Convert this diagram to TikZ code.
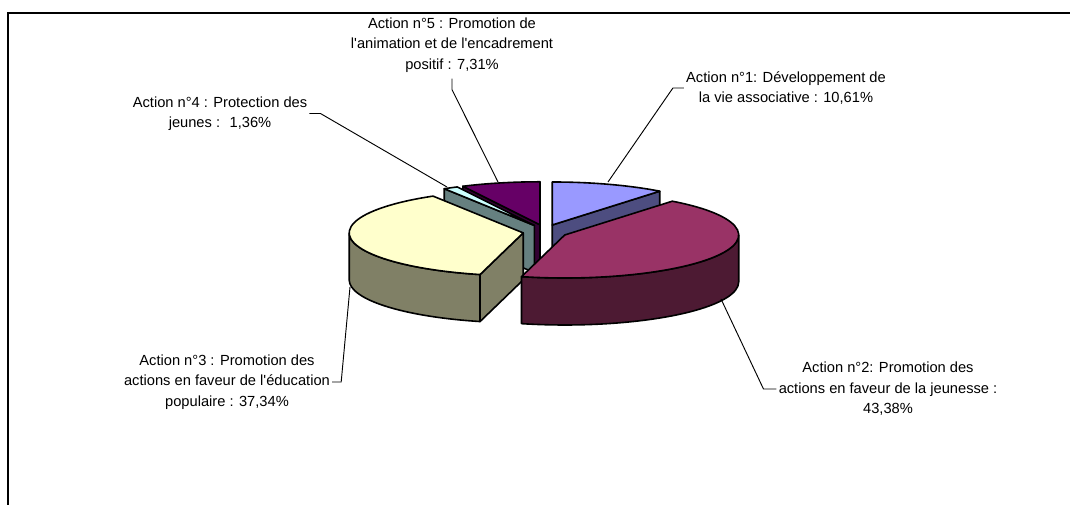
\documentclass[tikz,border=0pt]{standalone}
\usepackage{fontspec}
\newfontfamily\lab{Liberation Sans}
\definecolor{s1top}{HTML}{9999FF}\definecolor{s1side}{HTML}{4D4D80}
\definecolor{s2top}{HTML}{993366}\definecolor{s2side}{HTML}{4D1A33}
\definecolor{s3top}{HTML}{FFFFCC}\definecolor{s3side}{HTML}{808066}
\definecolor{s4top}{HTML}{CCFFFF}\definecolor{s4side}{HTML}{668080}
\definecolor{s5top}{HTML}{660066}\definecolor{s5side}{HTML}{330033}
\tikzset{
  edge/.style={draw=black, line width=1.2pt, line join=round},
  lbl/.style={font=\lab\fontsize{11}{15.4}\selectfont, align=center, inner sep=1.5pt},
  leader/.style={draw=black, line width=0.7pt},
  frame/.style={draw=black, line width=1pt},
  pie/.style={x radius=174, y radius=43}
}
\begin{document}
\begin{tikzpicture}[x=0.75pt,y=0.75pt]
\useasboundingbox (0,0) rectangle (1070,505);
\begin{scope}
  \clip (0,0) rectangle (1070,505);
  \draw[frame] (8,-20) -- (8,492) -- (1090,492);
\end{scope}

% slice 5
\begin{scope}[shift={(540.0,280.2)}]
  \filldraw[edge, fill=s5side] (0,0) -- (-243.684:174 and 43) -- ++(0,-47) -- (0,-47) -- cycle;
  \filldraw[edge, fill=s5top] (0,0) -- (-243.684:174 and 43) arc[pie, start angle=-243.684, end angle=-270] -- cycle;
\end{scope}
% slice 4
\begin{scope}[shift={(534.4,279.5)}]
  \filldraw[edge, fill=s4side] (0,0) -- (-238.788:174 and 43) -- ++(0,-47) -- (0,-47) -- cycle;
  \filldraw[edge, fill=s4top] (0,0) -- (-238.788:174 and 43) arc[pie, start angle=-238.788, end angle=-243.684] -- cycle;
\end{scope}
% slice 1
\begin{scope}[shift={(552.2,280.0)}]
  \filldraw[edge, fill=s1side] (0,0) -- (51.804:174 and 43) -- ++(0,-47) -- (0,-47) -- cycle;
  \filldraw[edge, fill=s1top] (0,0) -- (90:174 and 43) arc[pie, start angle=90, end angle=51.804] -- cycle;
\end{scope}
% slice 3
\begin{scope}[shift={(523.2,272.1)}]
  \filldraw[edge, fill=s3side] (0,0) -- (-104.364:174 and 43) -- ++(0,-47) -- (0,-47) -- cycle;
  \filldraw[edge, fill=s3side] (-104.364:174 and 43) arc[pie, start angle=-104.364, end angle=-180] -- ++(0,-47) arc[pie, start angle=-180, end angle=-104.364] -- cycle;
  \filldraw[edge, fill=s3top] (0,0) -- (-104.364:174 and 43) arc[pie, start angle=-104.364, end angle=-238.788] -- cycle;
\end{scope}
% slice 2
\begin{scope}[shift={(564.7,270.0)}]
  \filldraw[edge, fill=s2side] (0:174 and 43) arc[pie, start angle=0, end angle=-104.364] -- ++(0,-47) arc[pie, start angle=-104.364, end angle=0] -- cycle;
  \filldraw[edge, fill=s2top] (0,0) -- (51.804:174 and 43) arc[pie, start angle=51.804, end angle=-104.364] -- cycle;
\end{scope}

% labels
\node[lbl] (L5) at (452,460) {Action n°5 : Promotion de\\l'animation et de l'encadrement\\positif : 7,31\%};
\node[lbl] (L1) at (786,417) {Action n°1: Développement de\\la vie associative : 10,61\%};
\node[lbl] (L4) at (220,391.5) {Action n°4 : Protection des\\jeunes : \ 1,36\%};
\node[lbl] (L3) at (227,123) {Action n°3 : Promotion des\\actions en faveur de l'éducation\\populaire : 37,34\%};
\node[lbl] (L2) at (888,116) {Action n°2: Promotion des\\actions en faveur de la jeunesse :\\43,38\%};

% leader ends
\coordinate (e5) at (498,323);
\coordinate (e1) at (608,323);
\coordinate (e4) at (447,318);
\coordinate (e3) at (350,218);
\coordinate (e2) at (721,206);

\draw[leader] ([yshift=-3pt]L5.south) -- ++(0,-11) -- (e5);
\draw[leader] (L1.west) -- ++(-11,0) -- (e1);
\draw[leader] (L4.east) -- ++(11,0) -- (e4);
\draw[leader] (L3.east) -- ++(9,0) -- (e3);
\draw[leader] (L2.west) -- ++(-13,0) -- (e2);
\end{tikzpicture}
\end{document}
